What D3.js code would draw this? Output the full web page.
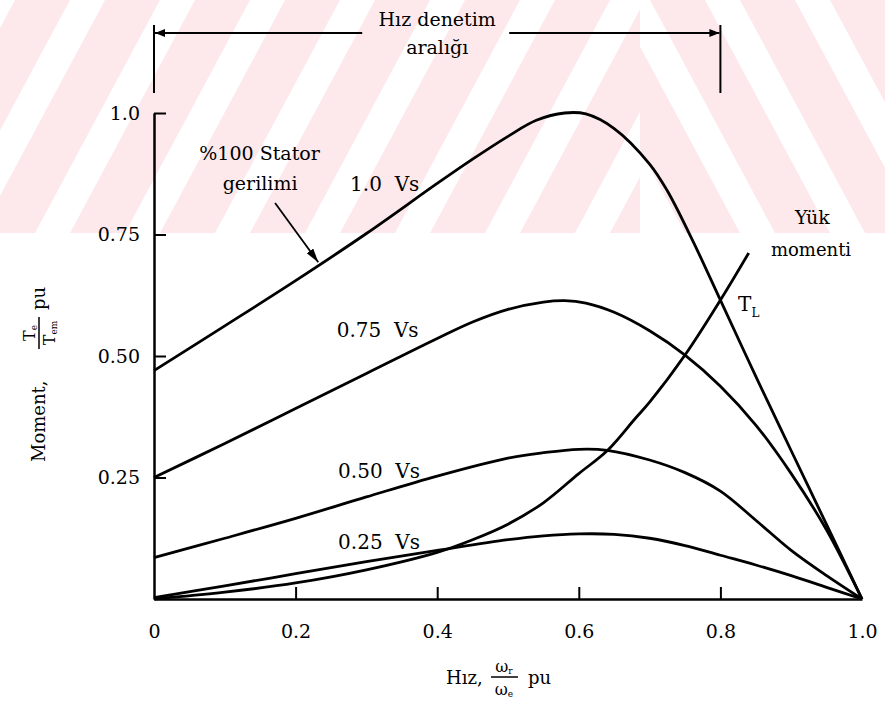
<!DOCTYPE html>
<html>
<head>
<meta charset="utf-8">
<script src="https://cdn.jsdelivr.net/npm/d3@7"></script>
</head>
<body style="margin:0;background:#fff">
<svg id="chart" width="885" height="706"></svg>
<script>
// torque-speed curves [speed pu, torque pu]
const vs100 = [[0,0.47],[0.1,0.562],[0.2,0.655],[0.3,0.752],[0.4,0.855],[0.45,0.905],[0.5,0.952],[0.54,0.985],[0.58,1.0],[0.61,0.998],[0.65,0.968],[0.7,0.895],[0.725,0.84],[0.76,0.74],[0.8,0.615],[0.85,0.458],[0.9,0.305],[0.95,0.153],[1.0,0]];
const vs75  = [[0,0.25],[0.1,0.32],[0.2,0.392],[0.3,0.464],[0.4,0.536],[0.45,0.57],[0.5,0.596],[0.55,0.611],[0.58,0.614],[0.61,0.609],[0.65,0.59],[0.7,0.552],[0.75,0.502],[0.8,0.438],[0.85,0.358],[0.9,0.258],[0.95,0.142],[1.0,0]];
const vs50  = [[0,0.085],[0.1,0.125],[0.2,0.166],[0.3,0.21],[0.4,0.253],[0.5,0.29],[0.55,0.301],[0.6,0.308],[0.64,0.306],[0.7,0.286],[0.75,0.26],[0.8,0.222],[0.85,0.162],[0.9,0.1],[0.95,0.048],[1.0,0]];
const vs25  = [[0,0.003],[0.1,0.027],[0.2,0.052],[0.3,0.077],[0.4,0.1],[0.5,0.122],[0.55,0.13],[0.6,0.134],[0.65,0.133],[0.7,0.125],[0.75,0.11],[0.8,0.09],[0.85,0.07],[0.9,0.048],[0.95,0.024],[1.0,0]];
const loadTorque = [[0,0],[0.1,0.014],[0.2,0.033],[0.3,0.06],[0.4,0.096],[0.45,0.122],[0.5,0.154],[0.55,0.198],[0.6,0.258],[0.64,0.305],[0.68,0.372],[0.7,0.405],[0.75,0.502],[0.8,0.615],[0.84,0.712]];

const xTicks = [0, 0.2, 0.4, 0.6, 0.8, 1.0];
const xTickLabels = ["0", "0.2", "0.4", "0.6", "0.8", "1.0"];
const yTicks = [0.25, 0.5, 0.75, 1.0];
const yTickLabels = ["0.25", "0.50", "0.75", "1.0"];

const controlRange = [0, 0.8];   // "Hız denetim aralığı"

// curve labels [text, speed, torque]
const curveLabels = [
  ["1.0  Vs", 0.277, 0.84],
  ["0.75  Vs", 0.258, 0.54],
  ["0.50  Vs", 0.26, 0.25],
  ["0.25  Vs", 0.26, 0.102]
];

const FONT = "DejaVu Serif";
const svg = d3.select("#chart");

const x = d3.scaleLinear().domain([0, 1]).range([154, 862]);
const y = d3.scaleLinear().domain([0, 1]).range([599, 113]);

const defs = svg.append("defs");
defs.append("clipPath").attr("id", "wmLeft")
  .append("rect").attr("x", 0).attr("y", 0).attr("width", 640).attr("height", 233);
defs.append("clipPath").attr("id", "wmRight")
  .append("rect").attr("x", 640).attr("y", 0).attr("width", 245).attr("height", 233);

defs.append("marker").attr("id", "headSmall")
  .attr("viewBox", "0 0 10 8").attr("refX", 10).attr("refY", 4)
  .attr("markerWidth", 10).attr("markerHeight", 8)
  .attr("markerUnits", "userSpaceOnUse").attr("orient", "auto")
  .append("path").attr("d", "M0,0L10,4L0,8z").attr("fill", "#000");
defs.append("marker").attr("id", "headBig")
  .attr("viewBox", "0 0 14 8").attr("refX", 14).attr("refY", 4)
  .attr("markerWidth", 14).attr("markerHeight", 8)
  .attr("markerUnits", "userSpaceOnUse").attr("orient", "auto")
  .append("path").attr("d", "M0,0L14,4L0,8z").attr("fill", "#000");

// faint watermark stripes in the top band
const pink = "#fde9ec";
const period = 90, band = 55, slant = 125;
const left = svg.append("g").attr("clip-path", "url(#wmLeft)");
for (let b = -200; b < 660; b += period) {
  left.append("path").attr("fill", pink)
    .attr("d", `M${b},233L${b + band},233L${b + band + slant},0L${b + slant},0Z`);
}
const right = svg.append("g").attr("clip-path", "url(#wmRight)");
for (let b = 560; b < 900; b += period) {
  right.append("path").attr("fill", pink)
    .attr("d", `M${b},0L${b + band},0L${b + band + slant},233L${b + slant},233Z`);
}

// curves
const line = d3.line()
  .x(d => x(d[0]))
  .y(d => y(d[1]))
  .curve(d3.curveCatmullRom.alpha(0.5));

svg.append("g").selectAll("path")
  .data([vs100, vs75, vs50, vs25, loadTorque])
  .join("path")
  .attr("d", line)
  .attr("fill", "none")
  .attr("stroke", "#000")
  .attr("stroke-width", 2.8)
  .attr("stroke-linejoin", "round");

// axes
const yAxis = d3.axisLeft(y)
  .tickValues(yTicks)
  .tickFormat((d, i) => yTickLabels[i])
  .tickSizeInner(-12).tickSizeOuter(0).tickPadding(14);
const gy = svg.append("g").attr("transform", `translate(${x(0)},0)`).call(yAxis);
gy.attr("font-size", 19).attr("font-family", FONT);
gy.select(".domain").attr("stroke-width", 2.5);
gy.selectAll(".tick line").attr("stroke-width", 2);

const xAxis = d3.axisBottom(x)
  .tickValues(xTicks)
  .tickFormat((d, i) => xTickLabels[i])
  .tickSizeInner(-12).tickSizeOuter(0).tickPadding(26);
const gx = svg.append("g").attr("transform", `translate(0,${y(0)})`).call(xAxis);
gx.attr("font-size", 19).attr("font-family", FONT);
gx.select(".domain").attr("stroke-width", 2.5);
gx.selectAll(".tick line").attr("stroke-width", 2);
gx.selectAll(".tick").filter(d => d === 0 || d === 1).select("line").remove();

// speed control range bracket
const br = svg.append("g").attr("stroke", "#000").attr("stroke-width", 2);
const bx0 = x(controlRange[0]), bx1 = x(controlRange[1]);
const bmid = (bx0 + bx1) / 2;
br.append("line").attr("x1", bx0).attr("x2", bx0).attr("y1", 25).attr("y2", 93);
br.append("line").attr("x1", bx1).attr("x2", bx1).attr("y1", 25).attr("y2", 93);
br.append("line").attr("x1", bmid - 75).attr("x2", bx0 + 1).attr("y1", 33).attr("y2", 33)
  .attr("marker-end", "url(#headSmall)");
br.append("line").attr("x1", bmid + 72).attr("x2", bx1 - 1).attr("y1", 33).attr("y2", 33)
  .attr("marker-end", "url(#headSmall)");
svg.append("text").attr("x", bmid).attr("y", 26).attr("text-anchor", "middle")
  .attr("font-size", 19).text("Hız denetim");
svg.append("text").attr("x", bmid).attr("y", 54).attr("text-anchor", "middle")
  .attr("font-size", 19).text("aralığı");

// curve labels
svg.append("g").selectAll("text")
  .data(curveLabels)
  .join("text")
  .attr("x", d => x(d[1]))
  .attr("y", d => y(d[2]))
  .attr("font-size", 20)
  .style("white-space", "pre")
  .text(d => d[0]);

// 100% stator voltage annotation
svg.append("text").attr("x", x(0.064)).attr("y", y(0.903)).attr("font-size", 19).text("%100 Stator");
svg.append("text").attr("x", x(0.097)).attr("y", y(0.842)).attr("font-size", 19).text("gerilimi");
svg.append("line")
  .attr("x1", x(0.171)).attr("y1", y(0.815))
  .attr("x2", x(0.232)).attr("y2", y(0.693))
  .attr("stroke", "#000").attr("stroke-width", 1.8)
  .attr("marker-end", "url(#headBig)");

// load torque annotation
svg.append("text").attr("x", x(0.93)).attr("y", y(0.772)).attr("text-anchor", "middle")
  .attr("font-size", 19).text("Yük");
svg.append("text").attr("x", x(0.928)).attr("y", y(0.706)).attr("text-anchor", "middle")
  .attr("font-size", 18).text("momenti");
const tl = svg.append("text").attr("x", x(0.825)).attr("y", y(0.593)).attr("font-size", 20);
tl.append("tspan").text("T");
tl.append("tspan").attr("font-size", 12).attr("dy", 6).text("L");

// y axis title
const yt = svg.append("g").attr("transform", "translate(45,462) rotate(-90)");
yt.append("text").attr("x", 0).attr("y", 0).attr("font-size", 18).text("Moment,");
yt.append("line").attr("x1", 113).attr("x2", 145).attr("y1", -6).attr("y2", -6)
  .attr("stroke", "#000").attr("stroke-width", 1.5);
const yn = yt.append("text").attr("x", 129).attr("y", -10).attr("text-anchor", "middle").attr("font-size", 16);
yn.append("tspan").text("T");
yn.append("tspan").attr("font-size", 9).attr("dy", 2).text("e");
const yd = yt.append("text").attr("x", 129).attr("y", 10).attr("text-anchor", "middle").attr("font-size", 16);
yd.append("tspan").text("T");
yd.append("tspan").attr("font-size", 9).attr("dy", 2).text("em");
yt.append("text").attr("x", 152).attr("y", 0).attr("font-size", 18).text("pu");

// x axis title
const xt = svg.append("g").attr("transform", "translate(446,684)");
xt.append("text").attr("x", 0).attr("y", 0).attr("font-size", 18).text("Hız,");
xt.append("line").attr("x1", 45).attr("x2", 72).attr("y1", -7).attr("y2", -7)
  .attr("stroke", "#000").attr("stroke-width", 1.5);
const xn = xt.append("text").attr("x", 58).attr("y", -12).attr("text-anchor", "middle").attr("font-size", 16);
xn.append("tspan").text("ω");
xn.append("tspan").attr("font-size", 9).attr("dy", 2).text("r");
const xd = xt.append("text").attr("x", 58).attr("y", 11).attr("text-anchor", "middle").attr("font-size", 16);
xd.append("tspan").text("ω");
xd.append("tspan").attr("font-size", 9).attr("dy", 2).text("e");
xt.append("text").attr("x", 82).attr("y", 0).attr("font-size", 18).text("pu");

// serif font on every text element
svg.selectAll("text").attr("font-family", FONT).attr("fill", "#000");
</script>
</body>
</html>
